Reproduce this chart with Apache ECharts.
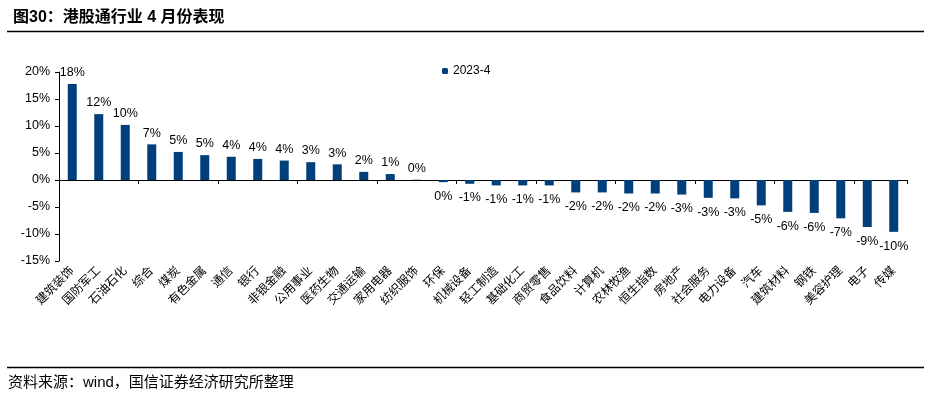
<!DOCTYPE html>
<html>
<head>
<meta charset="utf-8">
<script src="https://cdn.jsdelivr.net/npm/echarts@6/dist/echarts.min.js"></script>
<style>
  html, body { margin: 0; padding: 0; background: #fff; }
  #chart { width: 931px; height: 397px; }
</style>
</head>
<body>
<div id="chart"></div>
<script>
// 行业名称
const categories = ['建筑装饰', '国防军工', '石油石化', '综合', '煤炭', '有色金属', '通信', '银行',
  '非银金融', '公用事业', '医药生物', '交通运输', '家用电器', '纺织服饰', '环保', '机械设备',
  '轻工制造', '基础化工', '商贸零售', '食品饮料', '计算机', '农林牧渔', '恒生指数', '房地产',
  '社会服务', '电力设备', '汽车', '建筑材料', '钢铁', '美容护理', '电子', '传媒']
// 2023-4 涨跌幅 (%)
const values = [17.8, 12.2, 10.2, 6.6, 5.2, 4.6, 4.3, 3.9, 3.6, 3.3, 2.9, 1.5, 1.1, 0.05, -0.4, -0.7,
  -1.0, -1.0, -1.0, -2.3, -2.3, -2.5, -2.5, -2.7, -3.3, -3.4, -4.7, -5.9, -6.1, -7.1, -8.7, -9.6]
const yTicks = { min: -15, max: 20, interval: 5 }

const chart = echarts.init(document.getElementById('chart'))
const font = 'Arial, "Liberation Sans", "Noto Sans CJK SC", sans-serif'

chart.setOption({
  animation: false,
  textStyle: { fontFamily: font },
  title: {
    text: '图30：港股通行业 4 月份表现',
    left: 8,
    top: 5,
    textStyle: { fontSize: 16, fontWeight: 'bold', color: '#000', fontFamily: font }
  },
  graphic: [
    { type: 'line', shape: { x1: 7, y1: 31.5, x2: 924, y2: 31.5 }, style: { stroke: '#000', lineWidth: 1.5 } },
    { type: 'line', shape: { x1: 7, y1: 367.5, x2: 924, y2: 367.5 }, style: { stroke: '#000', lineWidth: 1.5 } },
    {
      type: 'text', left: 8, top: 375,
      style: { text: '资料来源：wind，国信证券经济研究所整理', fontSize: 15, fill: '#000', fontFamily: font }
    }
  ],
  legend: {
    data: ['2023-4'],
    left: 437,
    top: 60,
    itemWidth: 6,
    itemHeight: 6,
    itemGap: 4,
    textStyle: { fontSize: 12, color: '#000' }
  },
  grid: { left: 59, right: 24, top: 72, bottom: 136 },
  xAxis: [
    {
      type: 'category',
      position: 'bottom',
      data: categories,
      axisLine: { show: false, onZero: false },
      axisTick: { show: false },
      axisLabel: { rotate: 45, interval: 0, margin: 8, fontSize: 12, color: '#000' }
    },
    {
      type: 'category',
      position: 'bottom',
      data: categories,
      axisLine: { show: true, onZero: true, lineStyle: { color: '#000', width: 1 } },
      axisTick: { show: true, length: 4, inside: false, lineStyle: { color: '#000' } },
      axisLabel: { show: false }
    }
  ],
  yAxis: {
    type: 'value',
    min: yTicks.min,
    max: yTicks.max,
    interval: yTicks.interval,
    splitLine: { show: false },
    axisLine: { show: true, lineStyle: { color: '#000' } },
    axisTick: { show: true, length: 4, lineStyle: { color: '#000' } },
    axisLabel: { formatter: '{value}%', fontSize: 12.5, color: '#000', margin: 9 }
  },
  series: [
    {
      name: '2023-4',
      type: 'bar',
      barWidth: 9,
      itemStyle: { color: '#003F7A' },
      label: {
        show: true,
        fontSize: 12.5,
        color: '#000',
        formatter: p => String(Math.round(p.value) || 0) + '%'
      },
      data: values.map(v => ({
        value: v,
        label: { position: v < 0 ? 'bottom' : 'top', distance: v < 0 ? 8 : 5 }
      }))
    }
  ]
})
</script>
</body>
</html>
